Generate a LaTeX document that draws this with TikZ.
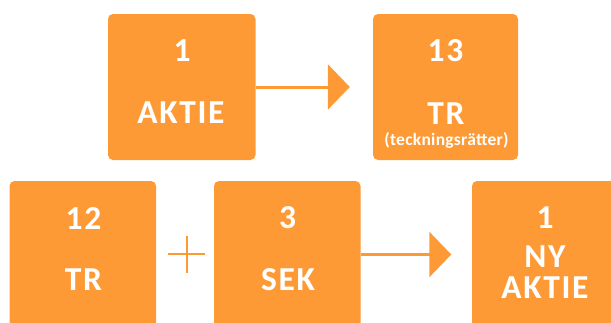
\documentclass[tikz,border=0pt]{standalone}
\usepackage{fontspec}
\setmainfont{Carlito}[LetterSpace=5]
\usetikzlibrary{arrows.meta}
\definecolor{orng}{RGB}{254,154,54}
\tikzset{
  box/.style={fill=orng, rounded corners=5pt, inner sep=0pt, minimum height=146pt},
  lbl/.style={text=white, inner sep=0pt, font=\bfseries\fontsize{33.5}{33.5}\selectfont},
  small/.style={text=white, inner sep=0pt, font=\bfseries\fontsize{17.5}{17.5}\selectfont\addfontfeature{LetterSpace=1.5}},
  conn/.style={draw=orng, line width=3pt, -{Triangle[length=22pt,width=45pt]}},
  plusline/.style={draw=orng, line width=2pt},
}
\begin{document}
\begin{tikzpicture}[x=1pt,y=-1pt]
\useasboundingbox (0,0) rectangle (611,322);
\clip (0,0) rectangle (611,322);
% boxes
\node[box, minimum width=147.5pt] (a) at (181.75,87) {};
\node[box, minimum width=145pt] (b) at (445.5,87) {};
\node[box, minimum width=146.5pt, minimum height=170pt] (c) at (82.75,266) {};
\node[box, minimum width=146.5pt, minimum height=170pt] (d) at (287.25,266) {};
\node[box, minimum width=145pt, minimum height=170pt] (e) at (544.5,266) {};
% texts
\node[lbl] (a1) at (182,51) {1};
\node[lbl] (a2) at (181,113) {AKTIE};
\node[lbl] (b1) at (445.5,50.5) {13};
\node[lbl] (b2) at (446,113.3) {TR};
\node[small] (b3) at (446.5,140) {(teckningsrätter)};
\node[lbl] (c1) at (83.5,218.7) {12};
\node[lbl] (c2) at (83.5,280) {TR};
\node[lbl] (d1) at (287.7,217.5) {3};
\node[lbl] (d2) at (288,279.2) {SEK};
\node[lbl] (e1) at (545,218) {1};
\node[lbl] (e2) at (545,256.7) {NY};
\node[lbl] (e3) at (545,288) {AKTIE};
% plus
\node[inner sep=0pt, minimum width=37pt, minimum height=37pt] (plus) at (186.7,254.3) {};
\draw[plusline] (plus.north) -- (plus.south) (plus.west) -- (plus.east);
% arrows
\draw[conn] (a.east |- 0,87) -- ([xshift=-23pt]b.west |- 0,87);
\draw[conn] (d.east |- 0,254.5) -- ([xshift=-20.5pt]e.west |- 0,254.5);
\end{tikzpicture}
\end{document}
